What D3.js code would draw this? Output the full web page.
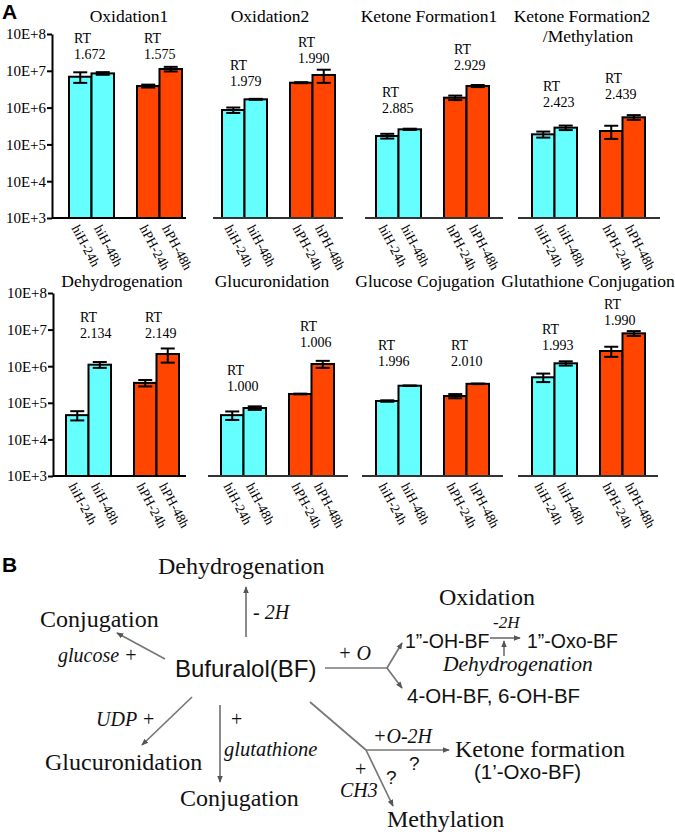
<!DOCTYPE html>
<html><head><meta charset="utf-8">
<script src="https://cdn.jsdelivr.net/npm/d3@7"></script>
<style>body{margin:0;background:#fff} svg{display:block}</style>
</head><body>
<script>
// ---------------- DATA ----------------
const categories = ["hiH-24h", "hiH-48h", "hPH-24h", "hPH-48h"];
const groups = ["hiH", "hPH"];
const times = ["24h", "48h"];
const tickValues = [1e3, 1e4, 1e5, 1e6, 1e7, 1e8];
const tickLabels = ["10E+3", "10E+4", "10E+5", "10E+6", "10E+7", "10E+8"];

const topTitles = [["Oxidation1"], ["Oxidation2"], ["Ketone Formation1"], ["Ketone Formation2", "/Methylation"]];
const bottomTitles = [["Dehydrogenation"], ["Glucuronidation"], ["Glucose Cojugation"], ["Glutathione Conjugation"]];

const topMeans = [
  [6.9e6, 8.5e6, 3.86e6, 1.12e7],
  [8.6e5, 1.68e6, 4.75e6, 7.7e6],
  [1.69e5, 2.57e5, 1.86e6, 3.86e6],
  [1.88e5, 2.85e5, 2.31e5, 5.45e5]
];
const topErrors = [
  [2.2e6, 7e5, 3.5e5, 1.6e6],
  [1.45e5, 5e4, 1.5e5, 3.0e6],
  [2.5e4, 1e4, 2.6e5, 2.5e5],
  [3.5e4, 4e4, 9e4, 8e4]
];
const bottomMeans = [
  [4.6e4, 1.1e6, 3.5e5, 2.15e6],
  [4.6e4, 7.2e4, 1.74e5, 1.15e6],
  [1.12e5, 2.93e5, 1.53e5, 3.3e5],
  [4.98e5, 1.2e6, 2.6e6, 7.9e6]
];
const bottomErrors = [
  [1.3e4, 2e5, 7e4, 9e5],
  [1.2e4, 8e3, 4e3, 2.5e5],
  [5e3, 5e3, 2e4, 6e3],
  [1.3e5, 1.6e5, 8e5, 1.2e6]
];
const topRT = [["1.672", "1.575"], ["1.979", "1.990"], ["2.885", "2.929"], ["2.423", "2.439"]];
const bottomRT = [["2.134", "2.149"], ["1.000", "1.006"], ["1.996", "2.010"], ["1.993", "1.990"]];

// ---------------- LAYOUT ----------------
const W = 675, H = 834;
const serif = "'Liberation Serif','Times New Roman',serif";
const sans = "'Liberation Sans',Arial,sans-serif";
const colors = { hiH: "#66ffff", hPH: "#ff4500" };

const rows = [
  {
    top: 34, base: 218, axisX: 52,
    px: [69, 222, 376, 532],
    lineX: [[52, 186], [213, 343], [365, 503], [518, 660]],
    titleX: [129, 270, 429, 582], titleY: 22,
    rtX: [[74, 144], [230, 298], [382, 454], [543, 605]],
    rtY: [[43, 43], [70, 47], [97, 54], [91, 83]],
    titles: topTitles, means: topMeans, errs: topErrors, rts: topRT
  },
  {
    top: 293, base: 476, axisX: 53,
    px: [66, 221, 376, 532],
    lineX: [[53, 186], [208, 348], [362, 503], [518, 658]],
    titleX: [122, 272, 425, 588], titleY: 287,
    rtX: [[80, 145], [227, 300], [378, 451], [542, 604]],
    rtY: [[322, 322], [375, 331], [350, 350], [334, 309]],
    titles: bottomTitles, means: bottomMeans, errs: bottomErrors, rts: bottomRT
  }
];

const svg = d3.select("body").append("svg").attr("width", W).attr("height", H)
  .style("background", "#fff");

svg.append("text").attr("x", 2).attr("y", 19).text("A")
  .attr("font-family", sans).attr("font-weight", "bold").attr("font-size", 21);

rows.forEach(L => {
  const y = d3.scaleLog().domain([1e3, 1e8]).range([L.base, L.top]);

  // y axis (first panel only)
  const ax = svg.append("g").attr("transform", `translate(${L.axisX},0)`)
    .call(d3.axisLeft(y).tickValues(tickValues).tickFormat((d, i) => tickLabels[i])
      .tickSize(5).tickSizeOuter(0).tickPadding(1));
  ax.select(".domain").attr("stroke", "#000").attr("stroke-width", 2);
  ax.selectAll(".tick line").attr("stroke", "#000").attr("stroke-width", 2);
  ax.selectAll(".tick text").attr("font-family", serif).attr("font-size", 15).attr("fill", "#000");

  for (let p = 0; p < 4; p++) {
    const g = svg.append("g");
    // title
    L.titles[p].forEach((t, k) => {
      g.append("text").attr("x", L.titleX[p] + (k ? 6 : 0)).attr("y", L.titleY + k * 20)
        .attr("text-anchor", "middle").attr("font-family", serif).attr("font-size", 17.5).text(t);
    });
    const outer = d3.scaleBand().domain(groups).range([L.px[p], L.px[p] + 113]).paddingInner(0.338).paddingOuter(0);
    const inner = d3.scaleBand().domain(times).range([0, outer.bandwidth()]);
    const bars = categories.map((c, i) => {
      const gr = c.slice(0, 3), t = c.slice(4);
      return { c, gr, t, x: outer(gr) + inner(t), w: inner.bandwidth(), m: L.means[p][i], e: L.errs[p][i] };
    });
    // bars
    g.selectAll("rect").data(bars).join("rect")
      .attr("x", d => d.x).attr("width", d => d.w)
      .attr("y", d => y(d.m)).attr("height", d => L.base - y(d.m))
      .attr("fill", d => colors[d.gr]).attr("stroke", "#000").attr("stroke-width", 2);
    // error bars
    bars.forEach(d => {
      const cx = d.x + d.w / 2, y1 = y(d.m + d.e), y2 = y(Math.max(d.m - d.e, 1e3));
      g.append("line").attr("x1", cx).attr("x2", cx).attr("y1", y1).attr("y2", y2).attr("stroke", "#000").attr("stroke-width", 2);
      [y1, y2].forEach(yy => g.append("line").attr("x1", cx - 7).attr("x2", cx + 7).attr("y1", yy).attr("y2", yy)
        .attr("stroke", "#000").attr("stroke-width", 2));
      // x label
      g.append("text").attr("transform", `translate(${cx - 9},${L.base + 10}) rotate(62)`)
        .attr("font-family", serif).attr("font-size", 13.5).text(d.c);
    });
    // baseline
    g.append("line").attr("x1", L.lineX[p][0]).attr("x2", L.lineX[p][1]).attr("y1", L.base).attr("y2", L.base)
      .attr("stroke", p === 0 ? "#000" : "#333").attr("stroke-width", 2);
    // RT labels
    groups.forEach((gr, k) => {
      g.append("text").attr("x", L.rtX[p][k]).attr("y", L.rtY[p][k]).attr("font-family", serif).attr("font-size", 14).text("RT");
      g.append("text").attr("x", L.rtX[p][k]).attr("y", L.rtY[p][k] + 16).attr("font-family", serif).attr("font-size", 14).text(L.rts[p][k]);
    });
  }
});

// ---------------- PART B: pathway diagram ----------------
const defs = svg.append("defs");
defs.append("marker").attr("id", "ah").attr("viewBox", "0 -4 8 8").attr("refX", 7).attr("refY", 0)
  .attr("markerWidth", 7).attr("markerHeight", 7).attr("markerUnits", "userSpaceOnUse").attr("orient", "auto")
  .append("path").attr("d", "M0,-3.2L8,0L0,3.2Z").attr("fill", "#555");

svg.append("text").attr("x", 2).attr("y", 572).text("B")
  .attr("font-family", sans).attr("font-weight", "bold").attr("font-size", 21);

const labelsB = [
  ["Dehydrogenation", 158, 574, serif, 24, "normal"],
  ["- 2H", 253, 619, serif, 20, "italic"],
  ["Conjugation", 40, 627, serif, 24, "normal"],
  ["glucose +", 58, 662, serif, 20, "italic"],
  ["Bufuralol(BF)", 175, 677, sans, 24, "normal"],
  ["+ O", 338, 660, serif, 20, "italic"],
  ["Oxidation", 439, 605, serif, 24, "normal"],
  ["1\u201D-OH-BF", 405, 648, sans, 19.5, "normal"],
  ["-2H", 493, 628, serif, 17, "italic"],
  ["1\u201D-Oxo-BF", 527, 648, sans, 19.5, "normal"],
  ["Dehydrogenation", 443, 671, serif, 21.5, "italic"],
  ["4-OH-BF, 6-OH-BF", 407, 703, sans, 20.5, "normal"],
  ["UDP +", 96, 726, serif, 20, "italic"],
  ["Glucuronidation", 45, 770, serif, 24, "normal"],
  ["+", 231, 726, serif, 20, "normal"],
  ["glutathione", 224, 756, serif, 20.5, "italic"],
  ["Conjugation", 180, 806, serif, 24, "normal"],
  ["+O-2H", 373, 743, serif, 20, "italic"],
  ["Ketone formation", 455, 757, serif, 24, "normal"],
  ["(1\u2019-Oxo-BF)", 474, 779, sans, 20.5, "normal"],
  ["?", 409, 770, sans, 19, "normal"],
  ["+", 355, 776, serif, 20, "normal"],
  ["CH3", 340, 797, serif, 20, "italic"],
  ["?", 386, 784, sans, 19, "normal"],
  ["Methylation", 387, 827, serif, 24, "normal"]
];
labelsB.forEach(([t, x, yy, f, s, st]) => {
  svg.append("text").attr("x", x).attr("y", yy).attr("font-family", f).attr("font-size", s)
    .attr("font-style", st).attr("fill", "#111").text(t);
});

const arrowsB = [
  [246, 637, 246, 587, true],
  [165, 659, 117, 633, true],
  [325, 668, 387, 668, false],
  [387, 668, 402, 643, true],
  [387, 668, 402, 688, true],
  [490, 638, 520, 638, true],
  [504, 656, 504, 641, true],
  [192, 697, 142, 745, true],
  [220, 705, 220, 782, true],
  [310, 702, 366, 750, false],
  [366, 750, 449, 750, true],
  [366, 750, 393, 806, true]
];
arrowsB.forEach(([x1, y1, x2, y2, head]) => {
  const l = svg.append("line").attr("x1", x1).attr("y1", y1).attr("x2", x2).attr("y2", y2)
    .attr("stroke", "#777").attr("stroke-width", 1.7);
  if (head) l.attr("marker-end", "url(#ah)");
});
</script>
</body></html>
